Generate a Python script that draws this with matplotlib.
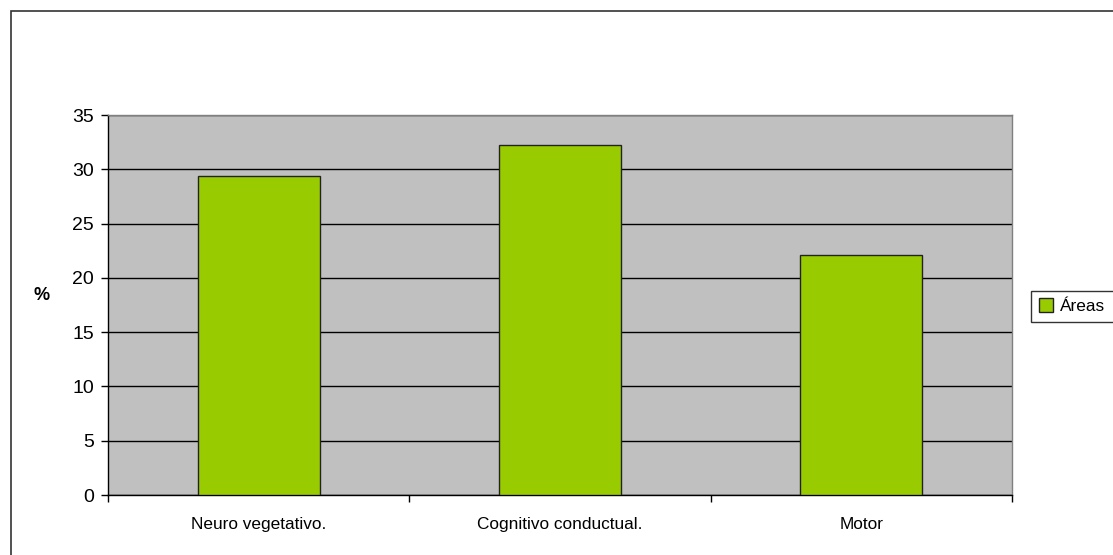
import numpy as np
import matplotlib
matplotlib.use('Agg')
import matplotlib.pyplot as plt
from matplotlib.patches import Rectangle

plt.rcParams['font.family'] = ['Liberation Sans', 'DejaVu Sans']

categories = ['Neuro vegetativo.', 'Cognitivo conductual.', 'Motor']
values = [29.35, 32.2, 22.15]
series_name = 'Áreas'

fig = plt.figure(figsize=(11.13, 5.55), dpi=100)
W, H = 1113.0, 555.0
# plot area in pixels: x 108..1012, y 115..495
ax = fig.add_axes([108 / W, 1 - 495 / H, 904 / W, 380 / H])
ax.set_facecolor('#C0C0C0')

x = np.arange(len(categories))
bars = ax.bar(x, values, width=0.405, color='#99CC00', edgecolor='#222222',
              linewidth=1.0, label=series_name, zorder=3)

ax.set_xlim(-0.5, len(categories) - 0.5)
ax.set_ylim(0, 35)
ax.set_yticks(np.arange(0, 36, 5))
ax.yaxis.grid(True, color='black', linewidth=1.0, zorder=1)
ax.set_axisbelow(True)

# category labels sit between the boundary ticks
ax.set_xticks(np.arange(-0.5, len(categories), 1.0))
ax.set_xticklabels([])
ax.set_xticks(x, minor=True)
ax.set_xticklabels(categories, minor=True, fontsize=12.4)
ax.tick_params(axis='x', which='minor', length=0, pad=16)
ax.tick_params(axis='x', which='major', length=5, width=1, direction='out')
ax.tick_params(axis='y', length=5, width=1, direction='out', labelsize=14, pad=5)

for side in ['left', 'bottom']:
    ax.spines[side].set_color('black')
    ax.spines[side].set_linewidth(1.0)
for side in ['top', 'right']:
    ax.spines[side].set_color('#808080')
    ax.spines[side].set_linewidth(1.0)

ax.set_ylabel('%', rotation=0, fontsize=13, fontweight='bold', va='center', ha='center')
ax.yaxis.set_label_coords(42 / W, 1 - 295 / H, transform=fig.transFigure)

leg = fig.legend(loc='lower left', bbox_to_anchor=(1031 / W, 1 - 322 / H, 100 / W, 34 / H),
                 mode='expand', fontsize=12.4, frameon=True, fancybox=False,
                 handlelength=0.84, handleheight=0.84, handletextpad=0.42,
                 borderpad=0.45, borderaxespad=0)
leg.get_frame().set_edgecolor('black')
leg.get_frame().set_linewidth(1.0)

# outer chart frame
fig.patches.append(Rectangle((11 / W, -0.1), 1.2, 1 - 11 / H + 0.1,
                             transform=fig.transFigure, fill=False,
                             edgecolor='#333333', linewidth=1.2))

fig.savefig('out.png', dpi=100)
